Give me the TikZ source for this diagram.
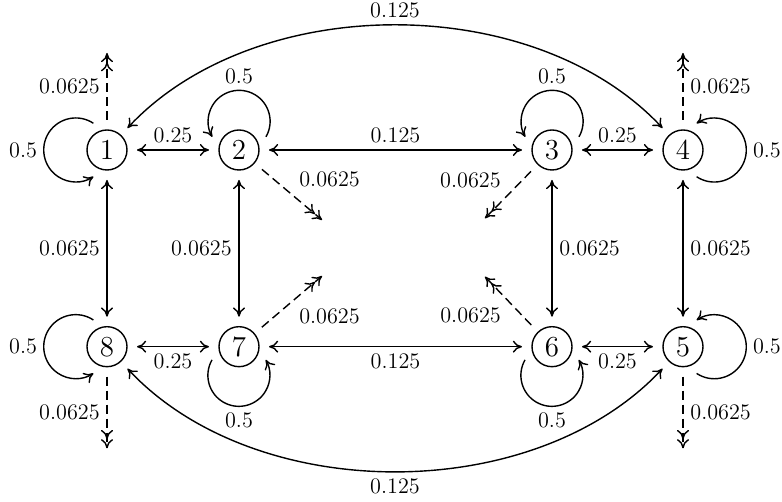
\documentclass[tikz,border=0pt]{standalone}
\usetikzlibrary{arrows.meta}
\begin{document}
\begin{tikzpicture}[x=0.5pt,y=0.5pt,
  >={Computer Modern Rightarrow[length=4.6pt,width=6pt]},
  st/.style={circle,draw,line width=0.7pt,minimum size=20pt,inner sep=0pt,outer sep=5pt,font=\fontsize{14.5}{17}\selectfont},
  lab/.style={font=\fontsize{11.1}{13}\selectfont},
  ln/.style={line width=0.7pt},
  dsh/.style={line width=0.7pt,dash pattern=on 4.5pt off 2.5pt}]
\useasboundingbox (0,0) rectangle (782,502);
% states
\node[st] (n1) at (107,352) {1};
\node[st] (n2) at (239,352) {2};
\node[st] (n3) at (552,352) {3};
\node[st] (n4) at (683,352) {4};
\node[st] (n8) at (107,155.3) {8};
\node[st] (n7) at (239,155.3) {7};
\node[st] (n6) at (552,155.3) {6};
\node[st] (n5) at (683,155.3) {5};
% free ends
\coordinate (d1) at (107,449);
\coordinate (d4) at (683,449);
\coordinate (d8) at (107,53.7);
\coordinate (d5) at (683,53.7);
\coordinate (d2) at (322,282);
\coordinate (d3) at (485,283.7);
\coordinate (d7) at (322,226);
\coordinate (d6) at (485,225.3);
% horizontal
\draw[ln,<->] (n1) -- node[lab,above]{0.25} (n2);
\draw[ln,<->] (n2) -- node[lab,above]{0.125} (n3);
\draw[ln,<->] (n3) -- node[lab,above]{0.25} (n4);
\draw[ln,<->] (n8) -- node[lab,below]{0.25} (n7);
\draw[ln,<->] (n7) -- node[lab,below]{0.125} (n6);
\draw[ln,<->] (n6) -- node[lab,below]{0.25} (n5);
% vertical
\draw[ln,<->] (n1) -- node[lab,left]{0.0625} (n8);
\draw[ln,<->] (n2) -- node[lab,left]{0.0625} (n7);
\draw[ln,<->] (n3) -- node[lab,right]{0.0625} (n6);
\draw[ln,<->] (n4) -- node[lab,right]{0.0625} (n5);
% long arcs
\draw[ln,<->] (n1) to[out=47,in=133,looseness=0.9] node[lab,above]{0.125} (n4);
\draw[ln,<->] (n8) to[out=-47,in=-133,looseness=0.9] node[lab,below]{0.125} (n5);
% loops
\draw[ln,->] (n1.117) arc[start angle=56.5,end angle=303.5,radius=16pt];
\draw[ln,->] (n8.117) arc[start angle=56.5,end angle=303.5,radius=16pt];
\draw[ln,->] (n4.297) arc[start angle=236.5,end angle=483.5,radius=16pt];
\draw[ln,->] (n5.297) arc[start angle=236.5,end angle=483.5,radius=16pt];
\draw[ln,->] (n2.26) arc[start angle=-30,end angle=210,radius=15.5pt];
\draw[ln,->] (n3.26) arc[start angle=-30,end angle=210,radius=15.5pt];
\draw[ln,->] (n7.206) arc[start angle=150,end angle=390,radius=15.5pt];
\draw[ln,->] (n6.206) arc[start angle=150,end angle=390,radius=15.5pt];
\path (n1) ++(-63,0) node[lab,left]{0.5};
\path (n8) ++(-63,0) node[lab,left]{0.5};
\path (n4) ++(63,0) node[lab,right]{0.5};
\path (n5) ++(63,0) node[lab,right]{0.5};
\path (n2) ++(0,59) node[lab,above]{0.5};
\path (n3) ++(0,59) node[lab,above]{0.5};
\path (n7) ++(0,-59) node[lab,below]{0.5};
\path (n6) ++(0,-59) node[lab,below]{0.5};
% dashed exits
\draw[dsh,->>] (n1) -- node[lab,left]{0.0625} (d1);
\draw[dsh,->>] (n4) -- node[lab,right]{0.0625} (d4);
\draw[dsh,->>] (n8) -- node[lab,left]{0.0625} (d8);
\draw[dsh,->>] (n5) -- node[lab,right]{0.0625} (d5);
\draw[dsh,->>] (n2) -- node[lab,above right]{0.0625} (d2);
\draw[dsh,->>] (n3) -- node[lab,above left]{0.0625} (d3);
\draw[dsh,->>] (n7) -- node[lab,below right]{0.0625} (d7);
\draw[dsh,->>] (n6) -- node[lab,below left]{0.0625} (d6);
\end{tikzpicture}
\end{document}
